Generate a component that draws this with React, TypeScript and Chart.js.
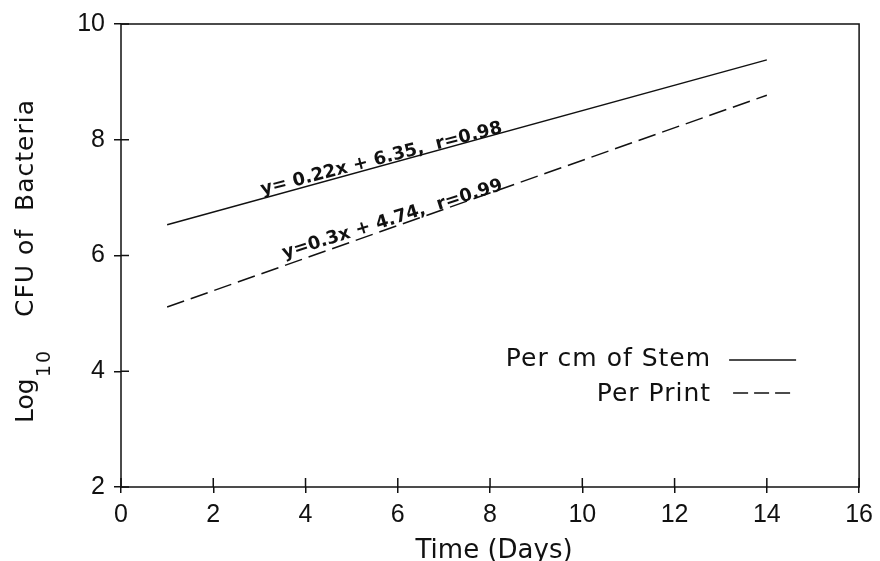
import React, { useEffect, useRef } from "react";
import { Chart, registerables } from "chart.js";

Chart.register(...registerables);

// ---- data ----
const days = [1, 14];
const stemLog = [6.53, 9.38];
const printLog = [5.11, 8.77];
const seriesNames = ["Per cm of Stem", "Per Print"];
const equations = ["y= 0.22x + 6.35,  r=0.98", "y=0.3x + 4.74,  r=0.99"];
const xTickValues = [0, 2, 4, 6, 8, 10, 12, 14, 16];
const yTickValues = [2, 4, 6, 8, 10];
const xTitle = "Time (Days)";
const yTitleParts = ["Log", "10", "CFU of  Bacteria"];

const INK = "#111";
const TEXT_FONT = "'DejaVu Sans', sans-serif";
const NUM_FONT = "'Liberation Sans', Arial, sans-serif";

const decorPlugin = {
  id: "decor",
  afterDraw(chart: any) {
    const { ctx, chartArea: ca, scales } = chart;
    const xs = scales.x;
    const ys = scales.y;
    ctx.save();
    ctx.strokeStyle = INK;
    ctx.fillStyle = INK;
    ctx.lineWidth = 1.5;
    ctx.setLineDash([]);
    // frame
    ctx.strokeRect(ca.left, ca.top, ca.right - ca.left, ca.bottom - ca.top);
    // inward parts of ticks
    ctx.beginPath();
    xTickValues.forEach((v) => {
      const px = xs.getPixelForValue(v);
      ctx.moveTo(px, ca.bottom);
      ctx.lineTo(px, ca.bottom - 9);
    });
    yTickValues.forEach((v) => {
      const py = ys.getPixelForValue(v);
      ctx.moveTo(ca.left, py);
      ctx.lineTo(ca.left + 8, py);
    });
    ctx.stroke();

    // equations along lines
    const series = [stemLog, printLog];
    const eqAnchor = [3.06, 3.54];
    const eqOffset = [4, 7];
    const eqAngle = [-14.5, -17.5];
    ctx.font = `bold 18px ${TEXT_FONT}`;
    ctx.textAlign = "left";
    ctx.textBaseline = "alphabetic";
    series.forEach((s, i) => {
      const ax = eqAnchor[i];
      const v = s[0] + ((s[1] - s[0]) * (ax - days[0])) / (days[1] - days[0]);
      const px = xs.getPixelForValue(ax);
      const py = ys.getPixelForValue(v) - eqOffset[i];
      ctx.save();
      ctx.translate(px, py);
      ctx.rotate((eqAngle[i] * Math.PI) / 180);
      ctx.fillText(equations[i], 0, 0);
      ctx.restore();
    });

    // legend
    ctx.font = `25px ${TEXT_FONT}`;
    (ctx as any).letterSpacing = "1px";
    ctx.textAlign = "right";
    const legRight = ca.right - 148;
    const baselines = [ca.top + 342, ca.top + 377];
    ctx.fillText(seriesNames[0], legRight, baselines[0]);
    ctx.fillText(seriesNames[1], legRight, baselines[1]);
    (ctx as any).letterSpacing = "0px";
    ctx.beginPath();
    ctx.moveTo(ca.right - 130, baselines[0] - 6);
    ctx.lineTo(ca.right - 63, baselines[0] - 6);
    ctx.stroke();
    ctx.setLineDash([15, 6]);
    ctx.beginPath();
    ctx.moveTo(ca.right - 126, baselines[1] - 8);
    ctx.lineTo(ca.right - 66, baselines[1] - 8);
    ctx.stroke();
    ctx.setLineDash([]);

    // x title
    ctx.font = `26px ${TEXT_FONT}`;
    ctx.textAlign = "center";
    ctx.fillText(xTitle, (ca.left + ca.right) / 2 + 4, ca.bottom + 71);

    // y title (rotated)
    ctx.textAlign = "left";
    ctx.save();
    ctx.translate(33, 423);
    ctx.rotate(-Math.PI / 2);
    ctx.font = `25px ${TEXT_FONT}`;
    ctx.fillText(yTitleParts[0], 0, 0);
    ctx.restore();

    ctx.save();
    ctx.translate(50, 377);
    ctx.rotate(-Math.PI / 2);
    ctx.font = `19px ${TEXT_FONT}`;
    (ctx as any).letterSpacing = "2px";
    ctx.fillText(yTitleParts[1], 0, 0);
    (ctx as any).letterSpacing = "0px";
    ctx.restore();

    ctx.save();
    ctx.translate(33, 317);
    ctx.rotate(-Math.PI / 2);
    ctx.font = `25px ${TEXT_FONT}`;
    (ctx as any).letterSpacing = "1px";
    ctx.fillText(yTitleParts[2], 0, 0);
    (ctx as any).letterSpacing = "0px";
    ctx.restore();

    ctx.restore();
  },
};

export default function App() {
  const canvasRef = useRef<HTMLCanvasElement | null>(null);

  useEffect(() => {
    const canvas = canvasRef.current;
    if (!canvas) return;
    const chart = new Chart(canvas, {
      type: "line",
      data: {
        datasets: [
          {
            label: seriesNames[0],
            data: days.map((d, i) => ({ x: d, y: stemLog[i] })),
            borderColor: INK,
            borderWidth: 1.5,
            pointRadius: 0,
            fill: false,
            tension: 0,
          },
          {
            label: seriesNames[1],
            data: days.map((d, i) => ({ x: d, y: printLog[i] })),
            borderColor: INK,
            borderWidth: 1.5,
            borderDash: [18, 7],
            pointRadius: 0,
            fill: false,
            tension: 0,
          },
        ],
      },
      options: {
        responsive: false,
        animation: false,
        devicePixelRatio: 1,
        layout: { padding: { top: 24, right: 17, left: 0, bottom: 0 } },
        plugins: {
          legend: { display: false },
          tooltip: { enabled: false },
        },
        scales: {
          x: {
            type: "linear",
            min: 0,
            max: 16,
            afterBuildTicks: (s: any) => {
              s.ticks = xTickValues.map((v) => ({ value: v }));
            },
            afterFit: (s: any) => {
              s.height = 74;
            },
            grid: {
              display: true,
              drawOnChartArea: false,
              drawTicks: true,
              tickLength: 6,
              color: INK,
              lineWidth: 1.5,
            },
            border: { display: false },
            ticks: {
              color: INK,
              font: { family: NUM_FONT, size: 25 },
              padding: 7,
              maxRotation: 0,
              autoSkip: false,
            },
          },
          y: {
            type: "linear",
            min: 2,
            max: 10,
            afterBuildTicks: (s: any) => {
              s.ticks = yTickValues.map((v) => ({ value: v }));
            },
            afterFit: (s: any) => {
              s.width = 121;
            },
            grid: {
              display: true,
              drawOnChartArea: false,
              drawTicks: true,
              tickLength: 7,
              color: INK,
              lineWidth: 1.5,
            },
            border: { display: false },
            ticks: {
              color: INK,
              font: { family: NUM_FONT, size: 25 },
              padding: 9,
              autoSkip: false,
            },
          },
        },
      } as any,
      plugins: [decorPlugin],
    });
    return () => chart.destroy();
  }, []);

  return (
    <div
      style={{
        position: "fixed",
        left: 0,
        top: 0,
        width: 880,
        height: 561,
        background: "#fff",
      }}
    >
      <canvas ref={canvasRef} width={880} height={561} />
    </div>
  );
}
